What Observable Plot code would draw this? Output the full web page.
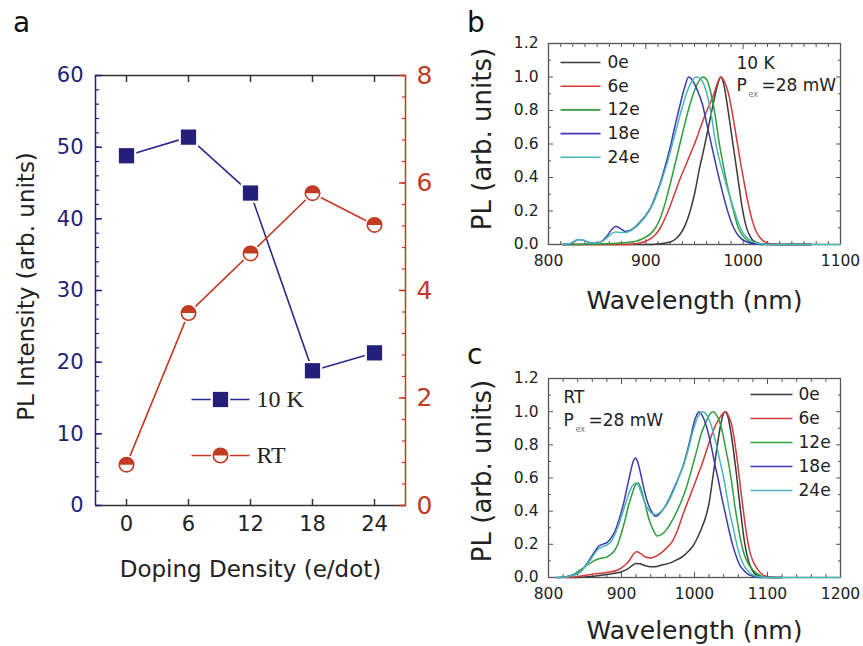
<!DOCTYPE html>
<html><head><meta charset="utf-8">
<script src="https://cdn.jsdelivr.net/npm/d3@7"></script>
<script src="https://cdn.jsdelivr.net/npm/@observablehq/plot@0.6"></script>
<style>
body{margin:0;background:#fff;}
#fig{position:relative;width:863px;height:646px;overflow:hidden;font-family:"DejaVu Sans";background:#fff;}
.panel{position:absolute;}
.letter{position:absolute;font-size:28px;line-height:28px;font-family:"DejaVu Sans";color:#111;}
</style></head><body><div id="fig"></div>
<script>
// ---------- Panel a data ----------
const doping = [0, 6, 12, 18, 24];
const pl10K = [48.8, 51.4, 43.6, 18.8, 21.3];
const plRT = [0.76, 3.58, 4.69, 5.81, 5.22];
const leftTicks = [0, 10, 20, 30, 40, 50, 60];
const leftMinor = d3.range(0, 61, 2);
const rightTicks = [0, 2, 4, 6, 8];
const rightMinor = d3.range(0, 8.01, 0.4);
const xDomA = [-3, 27];
const legendA = ["10 K", "RT"];

// ---------- Panel b / c shared ticks ----------
const yMajor = [0, 0.2, 0.4, 0.6, 0.8, 1.0, 1.2];
const yMinor = [0.1, 0.3, 0.5, 0.7, 0.9, 1.1];
const seriesNames = ["0e", "6e", "12e", "18e", "24e"];
const seriesColors = ["#3a3a3a", "#d23a3a", "#2e9e3a", "#3b3bb0", "#4db6b6"];

// ---------- Panel b (10 K) spectra [wavelength nm, PL] ----------
const b0e = [[815,0],[900,0],[915,0.005],[925,0.015],[930,0.03],[935,0.06],[940,0.11],[945,0.19],[950,0.3],[955,0.45],[960,0.58],[965,0.72],[970,0.86],[974,0.96],[977,1.0],[980,0.96],[984,0.82],[988,0.66],[992,0.5],[995,0.38],[999,0.22],[1003,0.11],[1007,0.05],[1012,0.015],[1020,0.003],[1040,0],[1070,0]];
const b6e = [[815,0],[880,0],[895,0.01],[905,0.035],[910,0.06],[915,0.1],[920,0.16],[925,0.23],[930,0.31],[935,0.39],[940,0.46],[945,0.53],[950,0.6],[955,0.68],[960,0.76],[965,0.83],[970,0.9],[974,0.97],[977,1.0],[981,0.97],[985,0.9],[989,0.78],[993,0.64],[997,0.5],[1001,0.37],[1005,0.25],[1009,0.15],[1014,0.07],[1020,0.025],[1028,0.005],[1040,0],[1070,0]];
const b12e = [[815,0],[850,0.003],[870,0.008],[880,0.012],[890,0.02],[895,0.03],[900,0.045],[905,0.065],[910,0.1],[915,0.16],[920,0.25],[925,0.36],[930,0.48],[935,0.6],[940,0.72],[945,0.83],[950,0.92],[955,0.98],[959,1.0],[963,0.98],[967,0.9],[971,0.78],[975,0.62],[979,0.49],[983,0.37],[987,0.27],[991,0.18],[995,0.1],[1000,0.05],[1005,0.022],[1012,0.007],[1020,0],[1070,0]];
const b18e = [[815,0],[822,0.005],[827,0.02],[831,0.03],[836,0.025],[842,0.012],[848,0.008],[855,0.02],[860,0.05],[865,0.09],[869,0.107],[874,0.095],[879,0.078],[884,0.085],[890,0.11],[895,0.14],[900,0.175],[905,0.22],[910,0.29],[915,0.37],[920,0.47],[925,0.58],[930,0.71],[935,0.83],[940,0.94],[944,1.0],[948,0.98],[953,0.92],[958,0.84],[963,0.71],[968,0.58],[973,0.45],[978,0.33],[983,0.22],[988,0.13],[993,0.07],[998,0.035],[1005,0.012],[1015,0.002],[1030,0],[1070,0]];
const b24e = [[815,0],[822,0.005],[827,0.02],[831,0.03],[836,0.025],[842,0.012],[848,0.008],[855,0.018],[860,0.04],[865,0.065],[869,0.075],[874,0.072],[879,0.072],[884,0.082],[890,0.105],[895,0.135],[900,0.17],[905,0.215],[910,0.28],[915,0.36],[920,0.45],[925,0.55],[930,0.66],[935,0.77],[940,0.87],[945,0.95],[949,0.99],[952,1.0],[956,0.99],[960,0.95],[964,0.87],[968,0.75],[971,0.63],[975,0.52],[980,0.41],[985,0.31],[990,0.22],[995,0.13],[1000,0.07],[1005,0.035],[1012,0.012],[1020,0.003],[1030,0],[1100,0]];

// ---------- Panel c (RT) spectra [wavelength nm, PL] ----------
const c0e = [[830,0],[850,0.003],[870,0.012],[890,0.025],[900,0.035],[908,0.05],[914,0.07],[920,0.085],[925,0.083],[932,0.072],[940,0.065],[946,0.065],[955,0.075],[965,0.085],[975,0.105],[985,0.13],[992,0.16],[998,0.19],[1004,0.24],[1010,0.3],[1015,0.36],[1020,0.45],[1025,0.6],[1030,0.76],[1035,0.9],[1039,0.98],[1042,1.0],[1045,0.98],[1049,0.9],[1053,0.78],[1057,0.64],[1061,0.48],[1065,0.33],[1069,0.2],[1074,0.1],[1079,0.045],[1085,0.015],[1095,0.003],[1110,0]];
const c6e = [[820,0],[840,0.005],[860,0.02],[880,0.03],[895,0.045],[905,0.075],[912,0.11],[917,0.145],[921,0.155],[926,0.145],[932,0.125],[940,0.118],[948,0.13],[955,0.15],[962,0.18],[970,0.22],[978,0.3],[985,0.39],[992,0.47],[998,0.54],[1004,0.61],[1010,0.68],[1016,0.76],[1022,0.84],[1028,0.91],[1034,0.96],[1039,0.99],[1043,1.0],[1047,0.97],[1051,0.92],[1055,0.82],[1059,0.69],[1063,0.54],[1067,0.4],[1071,0.27],[1075,0.17],[1080,0.1],[1085,0.06],[1090,0.03],[1097,0.01],[1110,0],[1120,0]];
const c12e = [[815,0],[825,0.005],[835,0.02],[845,0.05],[855,0.08],[862,0.1],[870,0.115],[878,0.12],[884,0.135],[890,0.16],[895,0.2],[900,0.27],[905,0.35],[910,0.44],[915,0.51],[920,0.565],[923,0.57],[927,0.53],[932,0.45],[937,0.36],[943,0.29],[949,0.25],[955,0.26],[962,0.29],[969,0.34],[976,0.4],[982,0.46],[988,0.53],[994,0.62],[999,0.7],[1004,0.78],[1008,0.85],[1013,0.91],[1018,0.96],[1022,0.99],[1026,1.0],[1030,0.98],[1035,0.93],[1039,0.86],[1043,0.77],[1047,0.68],[1051,0.57],[1055,0.44],[1059,0.33],[1063,0.23],[1068,0.14],[1074,0.08],[1081,0.04],[1090,0.012],[1100,0],[1120,0]];
const c18e = [[810,0],[825,0.005],[835,0.015],[845,0.04],[852,0.08],[858,0.12],[864,0.16],[869,0.19],[874,0.2],[880,0.21],[886,0.24],[892,0.29],[898,0.37],[903,0.45],[908,0.55],[912,0.63],[916,0.7],[919,0.72],[922,0.7],[926,0.63],[931,0.53],[936,0.45],[941,0.4],[946,0.37],[950,0.375],[955,0.4],[960,0.43],[966,0.48],[972,0.54],[978,0.6],[984,0.67],[990,0.76],[995,0.85],[999,0.93],[1003,0.98],[1006,1.0],[1010,0.98],[1015,0.93],[1020,0.85],[1024,0.77],[1028,0.68],[1033,0.58],[1037,0.49],[1042,0.39],[1047,0.29],[1052,0.2],[1057,0.13],[1062,0.075],[1067,0.045],[1073,0.02],[1080,0.008],[1090,0],[1120,0]];
const c24e = [[810,0],[825,0.005],[835,0.015],[845,0.04],[852,0.075],[858,0.11],[864,0.15],[869,0.175],[874,0.185],[880,0.195],[886,0.22],[892,0.27],[898,0.34],[903,0.41],[908,0.48],[912,0.53],[916,0.56],[920,0.57],[923,0.555],[927,0.51],[932,0.45],[937,0.41],[942,0.385],[947,0.38],[952,0.39],[957,0.41],[962,0.44],[968,0.49],[974,0.55],[980,0.62],[986,0.69],[992,0.78],[997,0.87],[1002,0.94],[1006,0.98],[1010,1.0],[1014,0.995],[1018,0.97],[1022,0.93],[1026,0.87],[1030,0.8],[1035,0.7],[1040,0.6],[1044,0.5],[1048,0.4],[1053,0.3],[1058,0.2],[1063,0.12],[1068,0.07],[1073,0.04],[1080,0.015],[1090,0.004],[1100,0],[1200,0]];

const bSeries = [b0e, b6e, b12e, b18e, b24e];
const cSeries = [c0e, c6e, c12e, c18e, c24e];

// ---------- helpers ----------
const navy = "#241f78", navyLine = "#2c2a8c", rust = "#c23b23";
const k = 60 / 8;
const halfTop = {draw(ctx, size) { const r = Math.sqrt(size / Math.PI); ctx.moveTo(r, 0); ctx.arc(0, 0, r, 0, Math.PI, true); ctx.closePath(); }};
const lineSym = {draw(ctx, size) { const l = Math.sqrt(size / Math.PI); ctx.moveTo(-l, 0); ctx.lineTo(l, 0); }};
const fig = document.getElementById("fig");
function place(el, left, top) { el.classList.add("panel"); el.style.left = left + "px"; el.style.top = top + "px"; fig.appendChild(el); }
function letter(t, left, top) { const d = document.createElement("div"); d.className = "letter"; d.textContent = t; d.style.left = left + "px"; d.style.top = top + "px"; fig.appendChild(d); }
const T = (s, o) => Plot.text([s], {textAnchor: "middle", lineAnchor: "middle", fill: "#222", text: d => d, ...o});

// ---------- Panel a ----------
const dA10 = doping.map((d, i) => ({d, v: pl10K[i]}));
const dART = doping.map((d, i) => ({d, v: plRT[i] * k}));
const plotA = Plot.plot({
  width: 440, height: 646, marginLeft: 95, marginRight: 35, marginTop: 75, marginBottom: 141,
  x: {domain: xDomA}, y: {domain: [0, 60]},
  style: {fontFamily: "DejaVu Sans", background: "transparent", overflow: "visible"},
  marks: [
    Plot.ruleY([0, 60], {stroke: "#333", strokeWidth: 1.5}),
    Plot.ruleX([xDomA[0]], {stroke: navy, strokeWidth: 1.5}),
    Plot.ruleX([xDomA[1]], {stroke: rust, strokeWidth: 1.5}),
    Plot.axisX({anchor: "bottom", ticks: doping, tickSize: -6, fill: "none", stroke: "#333", strokeWidth: 1.5}),
    Plot.axisX({anchor: "top", ticks: doping, tickSize: -6, fill: "none", stroke: "#333", strokeWidth: 1.5}),
    Plot.axisX({anchor: "bottom", ticks: doping, tickSize: 0, tickPadding: 11, fontSize: 21, fill: "#222", label: null}),
    Plot.axisY({anchor: "left", ticks: leftTicks, tickSize: -7, fill: "none", stroke: navy, strokeWidth: 1.5}),
    Plot.axisY({anchor: "left", ticks: leftMinor, tickSize: -4, fill: "none", stroke: navy, strokeWidth: 1.2}),
    Plot.axisY({anchor: "left", ticks: leftTicks, tickSize: 0, tickPadding: 12, fontSize: 21, fill: navy, label: null}),
    Plot.axisY({anchor: "right", ticks: rightTicks.map(t => t * k), tickSize: -7, fill: "none", stroke: rust, strokeWidth: 1.5}),
    Plot.axisY({anchor: "right", ticks: rightMinor.map(t => t * k), tickSize: -4, fill: "none", stroke: rust, strokeWidth: 1.2}),
    Plot.axisY({anchor: "right", ticks: rightTicks.map(t => t * k), tickFormat: d => String(Math.round(d / k)), tickSize: 0, tickPadding: 11, fontSize: 25, fill: rust, label: null}),
    T("PL Intensity (arb. units)", {frameAnchor: "left", dx: -69, dy: -4, rotate: -90, fontSize: 23}),
    T("Doping Density (e/dot)", {frameAnchor: "bottom", dy: 64, fontSize: 23}),
    Plot.line(dA10, {x: "d", y: "v", stroke: navyLine, strokeWidth: 1.6}),
    Plot.line(dART, {x: "d", y: "v", stroke: rust, strokeWidth: 1.6}),
    Plot.dot(dA10, {x: "d", y: "v", symbol: "square", r: 11, fill: "white"}),
    Plot.dot(dA10, {x: "d", y: "v", symbol: "square", r: 8.6, fill: navy}),
    Plot.dot(dART, {x: "d", y: "v", r: 9.5, fill: "white"}),
    Plot.dot(dART, {x: "d", y: "v", r: 7.2, fill: "white", stroke: rust, strokeWidth: 1.6}),
    Plot.dot(dART, {x: "d", y: "v", symbol: halfTop, r: 7.2, fill: rust}),
    // legend
    Plot.dot(["10 K"], {frameAnchor: "top-left", dx: 125, dy: 324, symbol: lineSym, r: 29, stroke: navyLine, strokeWidth: 1.6, fill: "none"}),
    Plot.dot(["10 K"], {frameAnchor: "top-left", dx: 125, dy: 324, symbol: "square", r: 11, fill: "white"}),
    Plot.dot(["10 K"], {frameAnchor: "top-left", dx: 125, dy: 324, symbol: "square", r: 8.6, fill: navy}),
    Plot.dot(["RT"], {frameAnchor: "top-left", dx: 125, dy: 380, symbol: lineSym, r: 29, stroke: rust, strokeWidth: 1.6, fill: "none"}),
    Plot.dot(["RT"], {frameAnchor: "top-left", dx: 125, dy: 380, r: 9.5, fill: "white"}),
    Plot.dot(["RT"], {frameAnchor: "top-left", dx: 125, dy: 380, r: 7.2, fill: "white", stroke: rust, strokeWidth: 1.6}),
    Plot.dot(["RT"], {frameAnchor: "top-left", dx: 125, dy: 380, symbol: halfTop, r: 7.2, fill: rust}),
    T(legendA[0], {frameAnchor: "top-left", dx: 161, dy: 324, textAnchor: "start", fontSize: 24, fontFamily: "Liberation Serif"}),
    T(legendA[1], {frameAnchor: "top-left", dx: 161, dy: 380, textAnchor: "start", fontSize: 24, fontFamily: "Liberation Serif"})
  ]
});
place(plotA, 0, 0);

// ---------- Panels b / c ----------
function spectrum({series, width, height, margins, xDomain, xMajor, xMinor, leg, annot, xLabelDy, yLabelDy}) {
  const lines = series.map((pts, i) => Plot.line(pts.map(([w, v]) => ({w, v})), {x: "w", y: "v", stroke: seriesColors[i], strokeWidth: 1.5, curve: "monotone-x"}));
  const legend = seriesNames.flatMap((n, i) => [
    Plot.dot([n], {frameAnchor: "top-left", dx: leg.dx, dy: leg.dy0 + i * leg.step, symbol: lineSym, r: leg.half, stroke: seriesColors[i], strokeWidth: 1.6, fill: "none"}),
    T(n, {frameAnchor: "top-left", dx: leg.tdx, dy: leg.dy0 + i * leg.step, textAnchor: "start", fontSize: 17})
  ]);
  const ann = [
    T(annot.first, {frameAnchor: "top-left", dx: annot.dx, dy: annot.dy1, textAnchor: "start", fontSize: 17}),
    T("P", {frameAnchor: "top-left", dx: annot.dx, dy: annot.dy2, textAnchor: "start", fontSize: 17}),
    T("ex", {frameAnchor: "top-left", dx: annot.dx + 12, dy: annot.dy2 + 9, textAnchor: "start", fontSize: 8, fill: "#777"}),
    T("=28 mW", {frameAnchor: "top-left", dx: annot.dx + 25, dy: annot.dy2, textAnchor: "start", fontSize: 17})
  ];
  return Plot.plot({
    width, height, ...margins,
    x: {domain: xDomain}, y: {domain: [0, 1.2]},
    style: {fontFamily: "DejaVu Sans", background: "transparent", overflow: "visible"},
    marks: [
      Plot.frame({stroke: "#555", strokeWidth: 1.3}),
      Plot.axisX({anchor: "bottom", ticks: xMajor, tickSize: -5, fill: "none", stroke: "#555"}),
      Plot.axisX({anchor: "top", ticks: xMajor, tickSize: -5, fill: "none", stroke: "#555"}),
      Plot.axisX({anchor: "bottom", ticks: xMinor, tickSize: -3, fill: "none", stroke: "#555"}),
      Plot.axisX({anchor: "top", ticks: xMinor, tickSize: -3, fill: "none", stroke: "#555"}),
      Plot.axisY({anchor: "left", ticks: yMajor, tickSize: -5, fill: "none", stroke: "#555"}),
      Plot.axisY({anchor: "right", ticks: yMajor, tickSize: -5, fill: "none", stroke: "#555"}),
      Plot.axisY({anchor: "left", ticks: yMinor, tickSize: -3, fill: "none", stroke: "#555"}),
      Plot.axisY({anchor: "right", ticks: yMinor, tickSize: -3, fill: "none", stroke: "#555"}),
      Plot.axisX({anchor: "bottom", ticks: xMajor, tickSize: 0, tickPadding: 10, fontSize: 15.5, fill: "#222", label: null, tickFormat: d3.format("d")}),
      Plot.axisY({anchor: "left", ticks: yMajor, tickSize: 0, tickPadding: 10, fontSize: 15.5, fill: "#222", label: null, tickFormat: d3.format(".1f")}),
      T("PL (arb. units)", {frameAnchor: "left", dx: -66, dy: yLabelDy, rotate: -90, fontSize: 26}),
      T("Wavelength (nm)", {frameAnchor: "bottom", dy: xLabelDy, fontSize: 25}),
      ...lines,
      ...legend,
      ...ann
    ]
  });
}

const xMajorB = [800, 900, 1000, 1100];
const xMinorB = d3.range(812.5, 1100, 12.5).filter(v => v % 100 !== 0);
const plotB = spectrum({
  series: bSeries, width: 423, height: 320,
  margins: {marginTop: 43, marginBottom: 76, marginLeft: 108, marginRight: 23},
  xDomain: [800, 1100], xMajor: xMajorB, xMinor: xMinorB,
  leg: {dx: 32, half: 20, tdx: 59, dy0: 19, step: 23.7},
  annot: {first: "10 K", dx: 188, dy1: 20, dy2: 42},
  xLabelDy: 56, yLabelDy: -5
});
place(plotB, 440, 0);

const xMajorC = [800, 900, 1000, 1100, 1200];
const xMinorC = d3.range(820, 1200, 20).filter(v => v % 100 !== 0);
const plotC = spectrum({
  series: cSeries, width: 423, height: 326,
  margins: {marginTop: 58, marginBottom: 69, marginLeft: 108, marginRight: 23},
  xDomain: [800, 1200], xMajor: xMajorC, xMinor: xMinorC,
  leg: {dx: 223, half: 21, tdx: 250, dy0: 16, step: 24},
  annot: {first: "RT", dx: 15, dy1: 19, dy2: 42},
  xLabelDy: 53, yLabelDy: -7
});
place(plotC, 440, 320);

letter("a", 13, 9);
letter("b", 467, 9);
letter("c", 467, 341);
</script></body></html>
